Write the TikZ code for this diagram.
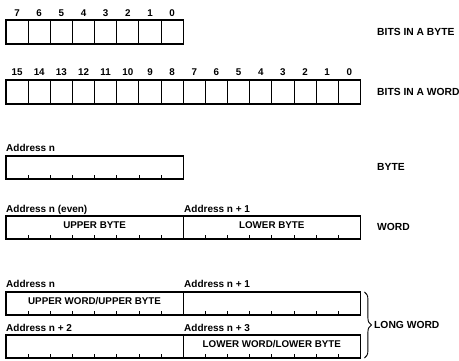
\documentclass[tikz,border=0pt]{standalone}
\usepackage{fontspec}
\setmainfont{Liberation Sans}
\usetikzlibrary{calc,decorations.pathreplacing}

\begin{document}
\begin{tikzpicture}[
  x=1pt, y=-1pt,
  cell/.style={draw, line width=0.9pt, minimum width=22.15pt, minimum height=24pt, inner sep=0pt, outer sep=0pt},
  frame/.style={draw, line width=1.4pt},
  field/.style={draw, line width=1.3pt, minimum width=177.2pt, minimum height=23pt, inner sep=0pt, outer sep=0pt,
    text height=7pt, text depth=5pt, font=\bfseries\fontsize{9.8}{11}\selectfont},
  bitnum/.style={font=\bfseries\fontsize{9.8}{11}\selectfont, inner sep=0pt},
  addr/.style={anchor=base west, inner sep=0pt, font=\bfseries\fontsize{10}{12}\selectfont},
  lbl/.style={anchor=base west, inner sep=0pt, font=\bfseries\fontsize{10.3}{12}\selectfont},
  tick/.style={line width=0.8pt}
]
\useasboundingbox (0,0) rectangle (459,361);

% bits in a byte
\foreach \i in {0,...,7}{
  \node[cell] (b\i) at ({6+22.15*(7-\i)+11.075},32) {};
  \node[bitnum] (bn\i) at (b\i |- 0,13) {\i};
}
\draw[frame] (b7.north west) rectangle (b0.south east);
\node[lbl] (bitsbyte) at (377,35.5) {BITS IN A BYTE};

% bits in a word
\foreach \i in {0,...,15}{
  \node[cell] (w\i) at ({6+22.15*(15-\i)+11.075},92) {};
  \node[bitnum] (wn\i) at (w\i |- 0,72) {\i};
}
\draw[frame] (w15.north west) rectangle (w0.south east);
\node[lbl] (bitsword) at (377,95.5) {BITS IN A WORD};

% byte
\node[addr] (abyte) at (6,151.5) {Address n};
\node[field] (bytebox) at (94.6,167.5) {};
\node[lbl] (lbyte) at (377,170.5) {BYTE};

% word
\node[addr] (aword0) at (6,212.5) {Address n (even)};
\node[addr] (aword1) at (184,212.5) {Address n + 1};
\node[field] (wordhi) at (94.6,227.5) {UPPER BYTE};
\node[field] (wordlo) at (271.8,227.5) {LOWER BYTE};
\node[lbl] (lword) at (377,230.5) {WORD};

% long word
\node[addr] (along0) at (6,287.5) {Address n};
\node[addr] (along1) at (184,287.5) {Address n + 1};
\node[field] (lw0) at (94.6,303.5) {UPPER WORD/UPPER BYTE};
\node[field] (lw1) at (271.8,303.5) {};
\node[addr] (along2) at (6,331.5) {Address n + 2};
\node[addr] (along3) at (184,331.5) {Address n + 3};
\node[field] (lw2) at (94.6,346.5) {};
\node[field] (lw3) at (271.8,346.5) {LOWER WORD/LOWER BYTE};
\draw[line width=0.9pt, decorate, decoration={brace, amplitude=7pt}]
  ($(lw1.north east)+(4,0)$) -- ($(lw3.south east)+(4,0)$);
\node[lbl] (llong) at (374,328.5) {LONG WORD};

% ticks
\foreach \f in {bytebox,wordhi,wordlo,lw0,lw1,lw2,lw3}
  \foreach \k in {1,...,7}
    \draw[tick] ($(\f.south west)+({22.15*\k},0)$) -- ++(0,-4);
\end{tikzpicture}
\end{document}
